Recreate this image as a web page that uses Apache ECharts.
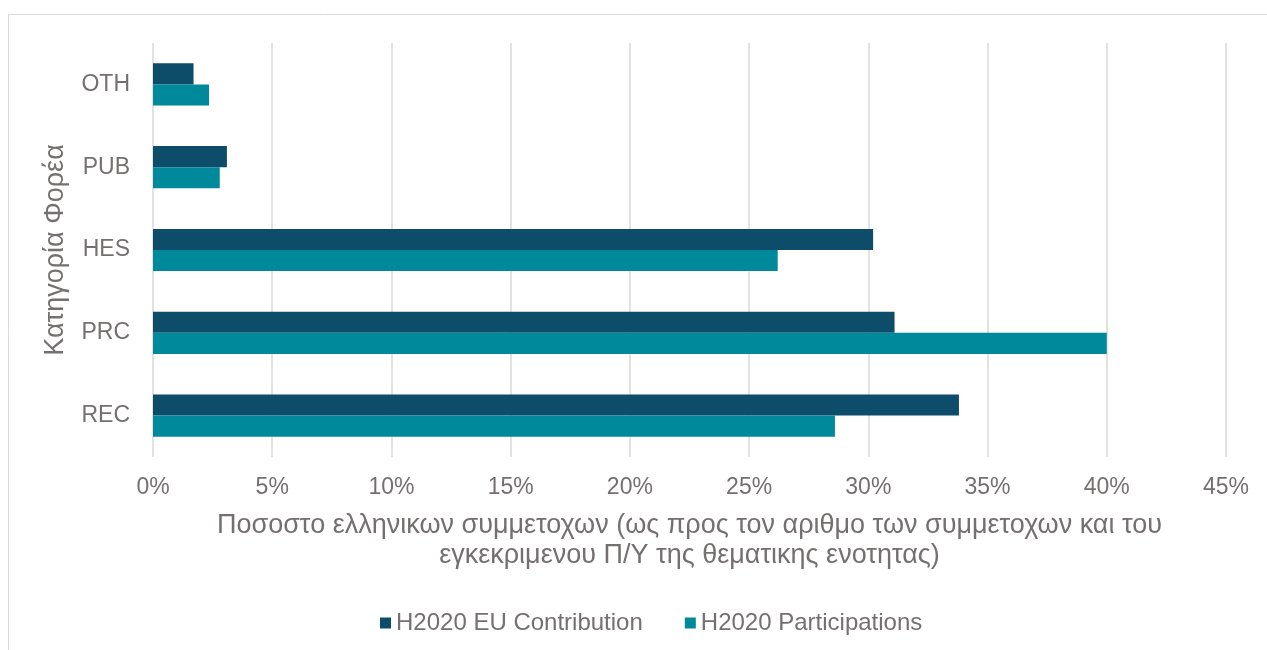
<!DOCTYPE html>
<html>
<head>
<meta charset="utf-8">
<script src="https://cdn.jsdelivr.net/npm/echarts@6/dist/echarts.min.js"></script>
<style>
html,body{margin:0;padding:0;background:#fff;}
#chart{width:1267px;height:650px;}
</style>
</head>
<body>
<div id="chart"></div>
<script>
// Data
const categories = ['REC', 'PRC', 'HES', 'PUB', 'OTH'];
const euContribution = [33.8, 31.1, 30.2, 3.1, 1.7];
const participations = [28.6, 40.0, 26.2, 2.8, 2.35];
const seriesNames = ['H2020 EU Contribution', 'H2020 Participations'];
const xAxisTitle = 'Ποσοστο ελληνικων συμμετοχων (ως προς τον αριθμο των συμμετοχων και του\nεγκεκριμενου Π/Υ της θεματικης ενοτητας)';
const yAxisTitle = 'Κατηγορία Φορέα';

const textColor = '#757070';
const font = 'Liberation Sans, Arial, sans-serif';

const chart = echarts.init(document.getElementById('chart'));
chart.setOption({
  animation: false,
  backgroundColor: '#fff',
  textStyle: { fontFamily: font, color: textColor },
  graphic: [{
    type: 'rect',
    shape: { x: 8.5, y: 14.5, width: 1400, height: 800 },
    style: { fill: 'none', stroke: '#d9d9d9', lineWidth: 1 },
    silent: true
  }],
  grid: { left: 153, right: 41, top: 43, bottom: 193, containLabel: false },
  legend: {
    data: seriesNames,
    bottom: 10,
    left: 375,
    itemWidth: 11,
    itemHeight: 11,
    itemGap: 42,
    itemTextGap: 6,
    icon: 'rect',
    textStyle: { fontFamily: font, color: textColor, fontSize: 24 }
  },
  xAxis: {
    type: 'value',
    min: 0,
    max: 45,
    interval: 5,
    name: xAxisTitle,
    nameLocation: 'middle',
    nameGap: 54,
    nameTextStyle: { fontFamily: font, color: textColor, fontSize: 27, lineHeight: 30 },
    axisLine: { show: false },
    axisTick: { show: false },
    axisLabel: { formatter: '{value}%', color: textColor, fontFamily: font, fontSize: 23, margin: 19 },
    splitLine: { show: true, lineStyle: { color: '#d9d9d9', width: 1.5 } }
  },
  yAxis: {
    type: 'category',
    data: categories,
    name: yAxisTitle,
    nameLocation: 'middle',
    nameGap: 84,
    nameRotate: 90,
    nameTextStyle: { fontFamily: font, color: textColor, fontSize: 27 },
    axisLine: { show: false },
    axisTick: { show: false },
    axisLabel: { color: textColor, fontFamily: font, fontSize: 23, margin: 23 }
  },
  series: [
    {
      name: seriesNames[0],
      type: 'bar',
      data: euContribution,
      itemStyle: { color: '#0D4D69' },
      barGap: '0%',
      barCategoryGap: '49%'
    },
    {
      name: seriesNames[1],
      type: 'bar',
      data: participations,
      itemStyle: { color: '#00899A' },
      barGap: '0%',
      barCategoryGap: '49%'
    }
  ]
});
</script>
</body>
</html>
